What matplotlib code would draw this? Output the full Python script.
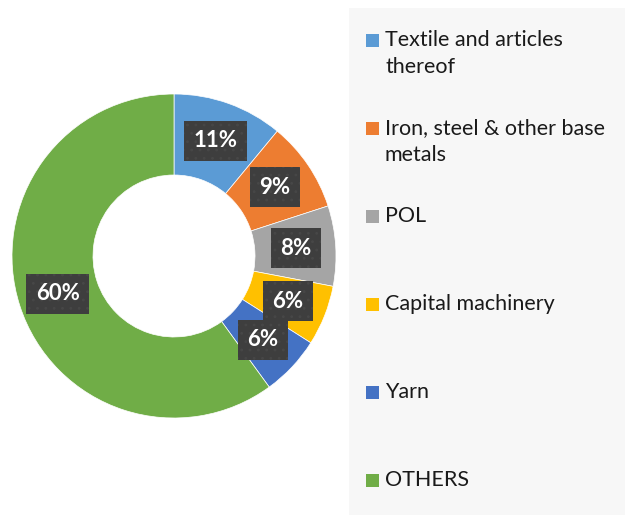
import matplotlib
matplotlib.use("Agg")
import matplotlib.pyplot as plt
import numpy as np
from matplotlib.patches import Rectangle

categories = ["Textile and articles\nthereof", "Iron, steel & other base\nmetals", "POL",
              "Capital machinery", "Yarn", "OTHERS"]
values = [11, 9, 8, 6, 6, 60]
colors = ["#5B9BD5", "#ED7D31", "#A5A5A5", "#FFC000", "#4472C4", "#70AD47"]

plt.rcParams['font.family'] = ['Lato', 'DejaVu Sans']
plt.rcParams['hatch.linewidth'] = 0.8

W, H = 625, 517
fig = plt.figure(figsize=(W / 100, H / 100), dpi=100)

# legend background
fig.patches.append(Rectangle((349 / W, 1 - 515 / H), (W - 349) / W, (515 - 8) / H,
                             transform=fig.transFigure, facecolor="#F7F7F7",
                             edgecolor="none", zorder=0))

R = 162
cx, cy = 174, 256
ax = fig.add_axes([(cx - R) / W, 1 - (cy + R) / H, 2 * R / W, 2 * R / H])
wedges, _ = ax.pie(values, colors=colors, startangle=90, counterclock=False,
                   radius=1.0, wedgeprops=dict(width=0.5, edgecolor="white", linewidth=0.5))
ax.set_xlim(-1, 1)
ax.set_ylim(-1, 1)
ax.set_aspect("equal")
ax.axis("off")

for w, v in zip(wedges, values):
    mid = np.deg2rad((w.theta1 + w.theta2) / 2)
    r = 0.755
    ax.text(r * np.cos(mid), r * np.sin(mid), f"{v}%", ha="center", va="center",
            color="white", fontsize=16, fontweight="bold",
            bbox=dict(boxstyle="square,pad=0.42", facecolor="#3E3E3E",
                      edgecolor="#474747", linewidth=0, hatch=".."))

# legend
y0 = 40
step = 88
for i, (lab, c) in enumerate(zip(categories, colors)):
    y = y0 + i * step
    fig.patches.append(Rectangle((366 / W, 1 - (y + 7) / H), 13 / W, 13 / H,
                                 transform=fig.transFigure, facecolor=c,
                                 edgecolor="none", zorder=2))
    fig.text(385 / W, 1 - (y - 10) / H, lab, ha="left", va="top", fontsize=15.5,
             color="#1a1a1a", linespacing=1.45)

fig.savefig("out.png", dpi=100)
